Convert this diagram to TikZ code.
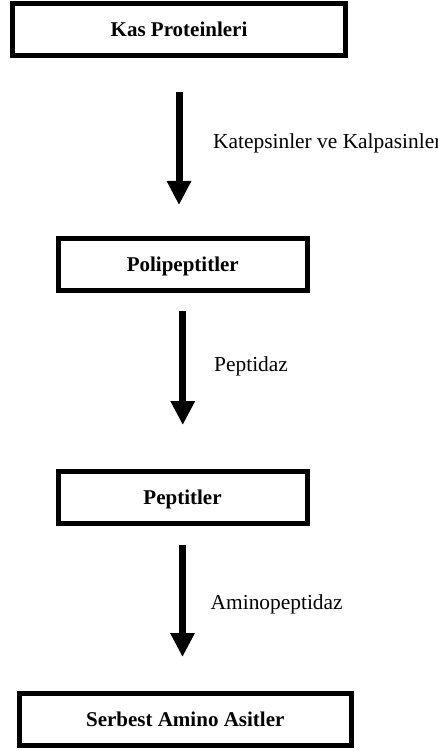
\documentclass[tikz,border=0pt]{standalone}
\usepackage{fontspec}
\setmainfont{Liberation Serif}
\usepackage{tikz}
\usetikzlibrary{arrows.meta}
\tikzset{my box/.style={
  draw,
  line width=5pt,
  minimum height=52pt,
  text depth=0pt,
  font=\fontsize{21pt}{25pt}\selectfont\bfseries
  },
  my arrow/.style={
  line width=7pt,
  -{Triangle[width=23pt,length=24pt]}
  },
  my label/.style={
  anchor=base west,
  inner sep=0pt,
  font=\fontsize{21.4pt}{25pt}\selectfont
  }
}

\begin{document}
\begin{tikzpicture}[x=1pt,y=-1pt]
    \useasboundingbox (0,0) rectangle (438,751);

    \node[my box,minimum width=333pt] (K) at (179,29.5) {Kas Proteinleri};
    \node[my box,minimum width=249.5pt] (P) at (182.75,264) {Polipeptitler};
    \node[my box,minimum width=249pt] (T) at (182.5,497) {Peptitler};
    \node[my box,minimum width=332.5pt,minimum height=52.5pt] (S) at (185.25,719.25) {Serbest Amino Asitler};

    \draw[my arrow,shorten <=34pt,shorten >=30.5pt]  (K.south) to (K.south |- P.north);
    \draw[my arrow,shorten <=18.5pt,shorten >=43.5pt]  (P.south) to (P.south |- T.north);
    \draw[my arrow,shorten <=19.5pt,shorten >=33.5pt]  (T.south) to (T.south |- S.north);

    \node[my label] (L1) at (213,149) {Katepsinler ve Kalpasinler};
    \node[my label] (L2) at (214,371.5) {Peptidaz};
    \node[my label] (L3) at (210.5,609) {Aminopeptidaz};
\end{tikzpicture}
\end{document}
